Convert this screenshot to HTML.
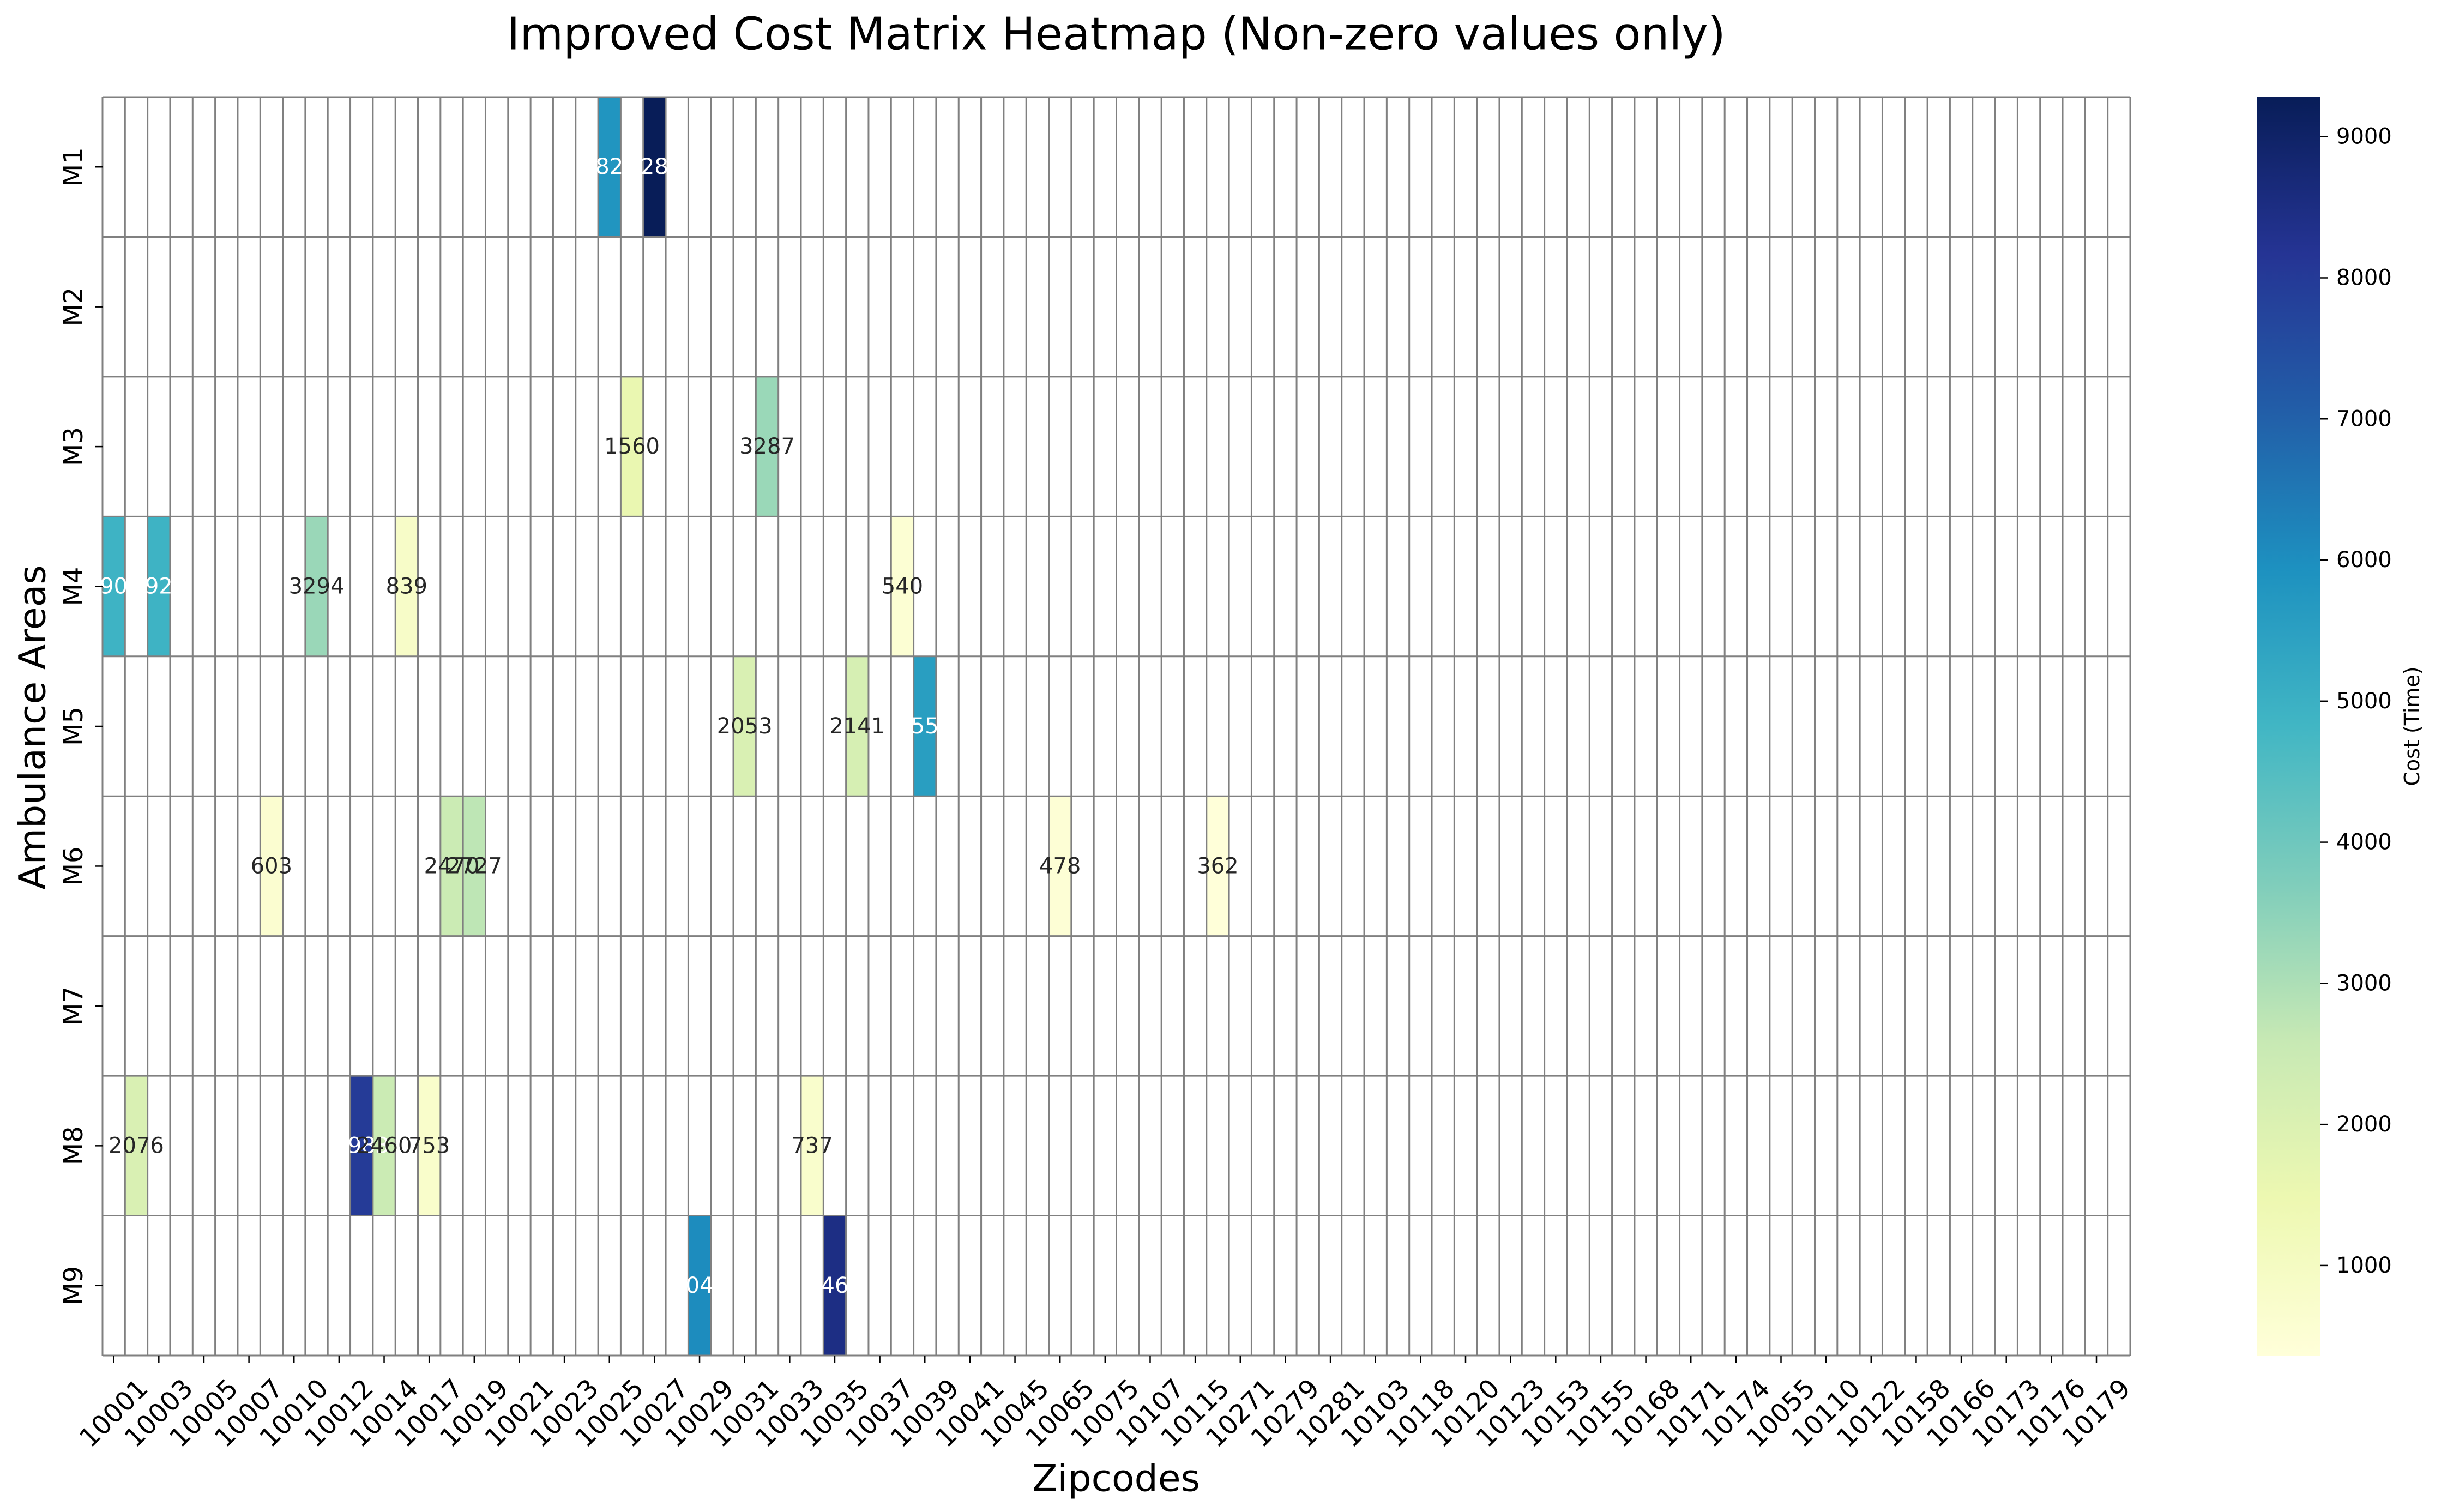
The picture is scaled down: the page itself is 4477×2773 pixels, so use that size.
<!DOCTYPE html>
<html><head><meta charset="utf-8"><title>Improved Cost Matrix Heatmap</title>
<style>
html,body{margin:0;padding:0;background:#fff;}
svg{display:block;font-family:"DejaVu Sans","Liberation Sans",sans-serif;}
</style></head>
<body>
<svg id="chart" width="4477" height="2773" viewBox="0 0 4477 2773" xmlns="http://www.w3.org/2000/svg">
<defs>
<linearGradient id="cbgrad" x1="0" y1="1" x2="0" y2="0">
<stop offset="0" stop-color="#ffffd9"/><stop offset="0.125" stop-color="#edf8b1"/><stop offset="0.25" stop-color="#c7e9b4"/><stop offset="0.375" stop-color="#7fcdbb"/><stop offset="0.5" stop-color="#41b6c4"/><stop offset="0.625" stop-color="#1d91c0"/><stop offset="0.75" stop-color="#225ea8"/><stop offset="0.875" stop-color="#253494"/><stop offset="1" stop-color="#081d58"/>
</linearGradient>
</defs>
<text x="2047" y="63" font-size="82" text-anchor="middle" dominant-baseline="central">Improved Cost Matrix Heatmap (Non-zero values only)</text>
<g id="cells"></g><g id="grid"></g><g id="annot"></g><g id="xticks"></g><g id="yticks"></g>
<text x="2047" y="2712" font-size="68" text-anchor="middle" dominant-baseline="central">Zipcodes</text>
<text transform="translate(60,1334) rotate(-90)" font-size="68" text-anchor="middle" dominant-baseline="central">Ambulance Areas</text>
<rect x="4140" y="178" width="115" height="2308" fill="url(#cbgrad)"/>
<g id="cbticks"></g>
<text transform="translate(4424,1332) rotate(-90)" font-size="38" text-anchor="middle" dominant-baseline="central">Cost (Time)</text>
</svg>
<script>
const areas = ["M1","M2","M3","M4","M5","M6","M7","M8","M9"];
const zipcodes = ["10001","10002","10003","10004","10005","10006","10007","10009","10010","10011","10012","10013","10014","10016","10017","10018","10019","10020","10021","10022","10023","10024","10025","10026","10027","10028","10029","10030","10031","10032","10033","10034","10035","10036","10037","10038","10039","10040","10041","10044","10045","10060","10065","10068","10075","10080","10107","10112","10115","10270","10271","10275","10279","10280","10281","10282","10103","10104","10118","10119","10120","10121","10123","10152","10153","10154","10155","10165","10168","10169","10171","10172","10174","10048","10055","10069","10110","10111","10122","10151","10158","10162","10166","10167","10173","10175","10176","10177","10179","10178"];
const cellArea = ["M1","M1","M3","M3","M4","M4","M4","M4","M4","M5","M5","M5","M6","M6","M6","M6","M6","M8","M8","M8","M8","M8","M9","M9"];
const cellZip = ["10025","10027","10026","10032","10001","10003","10011","10016","10038","10031","10036","10039","10009","10018","10019","10065","10270","10002","10013","10014","10017","10034","10029","10035"];
const cellValue = [5826,9281,1560,3287,4905,4925,3294,839,540,2053,2141,5553,603,2470,2727,478,362,2076,7983,2460,753,737,6045,8469];
const colorbarTicks = [1000,2000,3000,4000,5000,6000,7000,8000,9000];

const NS="http://www.w3.org/2000/svg";
const L=188, R=3907, T=178, B=2486;
const cw=(R-L)/zipcodes.length, rh=(B-T)/areas.length;
const vmin=Math.min(...cellValue), vmax=Math.max(...cellValue);
const xPos=i=>L+i*cw, yPos=i=>T+i*rh;
const cbY=v=>B-(v-vmin)/(vmax-vmin)*(B-T);
const stops=[[255,255,217],[237,248,177],[199,233,180],[127,205,187],[65,182,196],[29,145,192],[34,94,168],[37,52,148],[8,29,88]];
function cmap(v){let t=(v-vmin)/(vmax-vmin);t=Math.max(0,Math.min(1,t));const p=t*8,i=Math.min(7,Math.floor(p)),f=p-i;const c=stops[i].map((a,k)=>Math.round(a+(stops[i+1][k]-a)*f));return c;}
function lum(c){const l=c.map(x=>{x/=255;return x<=0.04045?x/12.92:Math.pow((x+0.055)/1.055,2.4)});return 0.2126*l[0]+0.7152*l[1]+0.0722*l[2];}
function mk(tag,attrs,parent){const e=document.createElementNS(NS,tag);for(const k in attrs)e.setAttribute(k,attrs[k]);parent.appendChild(e);return e;}
const gC=document.getElementById('cells'),gG=document.getElementById('grid'),gA=document.getElementById('annot');
const gX=document.getElementById('xticks'),gY=document.getElementById('yticks'),gCB=document.getElementById('cbticks');

for(let k=0;k<cellValue.length;k++){
  const r=areas.indexOf(cellArea[k]), c=zipcodes.indexOf(cellZip[k]);
  const col=cmap(cellValue[k]);
  const rect=mk('rect',{x:xPos(c),y:yPos(r),width:cw,height:rh,fill:`rgb(${col.join(',')})`},gC);
  
  
  const t=mk('text',{x:xPos(c)+cw/2,y:yPos(r)+rh/2,'font-size':40,'text-anchor':'middle','dominant-baseline':'central',fill:lum(col)>0.408?'#262626':'#ffffff'},gA);
  t.textContent=cellValue[k];
  
  
}
for(let i=0;i<=zipcodes.length;i++){const l=mk('line',{x1:xPos(i),x2:xPos(i),y1:T,y2:B,stroke:'#808080','stroke-width':3},gG);}
for(let i=0;i<=areas.length;i++){const l=mk('line',{x1:L,x2:R,y1:yPos(i),y2:yPos(i),stroke:'#808080','stroke-width':3},gG);}
for(let i=0;i<zipcodes.length;i+=2){
  const x=xPos(i)+cw/2;
  mk('line',{x1:x,x2:x,y1:B,y2:B+14,stroke:'#000','stroke-width':2.5},gX);
  const t=mk('text',{transform:`translate(${x},2592) rotate(-45)`,'font-size':48,'text-anchor':'middle','dominant-baseline':'central'},gX);
  t.textContent=zipcodes[i];
  
  
}
for(let i=0;i<areas.length;i++){
  const y=yPos(i)+rh/2;
  mk('line',{x1:L-14,x2:L,y1:y,y2:y,stroke:'#000','stroke-width':2.5},gY);
  const t=mk('text',{transform:`translate(135,${y}) rotate(-90)`,'font-size':48,'text-anchor':'middle','dominant-baseline':'central'},gY);
  t.textContent=areas[i];
  
  
}
for(const v of colorbarTicks){
  const y=cbY(v);
  mk('line',{x1:4255,x2:4269,y1:y,y2:y,stroke:'#000','stroke-width':2.5},gCB);
  const t=mk('text',{x:4285,y:y,'font-size':40,'dominant-baseline':'central'},gCB);
  t.textContent=v;
  
  
}
</script>
</body></html>
